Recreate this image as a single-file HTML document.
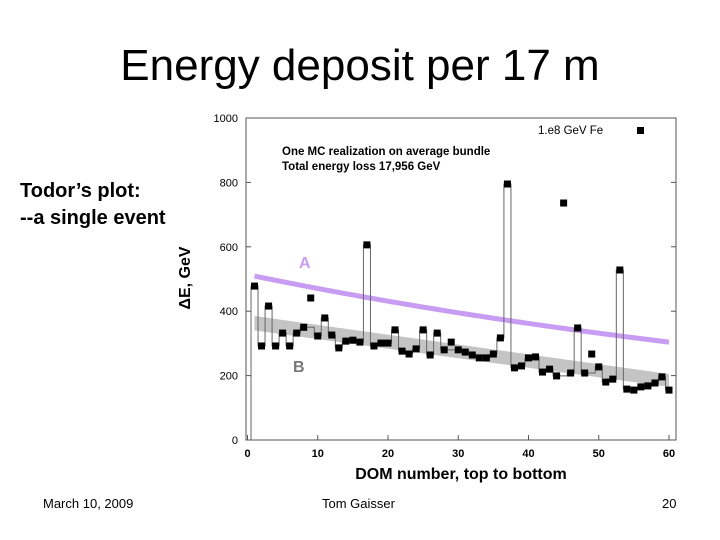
<!DOCTYPE html>
<html><head><meta charset="utf-8"><style>
body{margin:0;width:720px;height:540px;background:#fff;font-family:"Liberation Sans",sans-serif;position:relative;overflow:hidden}
.t{position:absolute;white-space:nowrap}
</style></head><body>
<div class="t" style="left:0;width:720px;text-align:center;top:41px;font-size:44px">Energy deposit per 17 m</div>
<div class="t" style="left:20px;top:178px;font-size:20px;font-weight:bold;line-height:27px">Todor’s plot:<br>--a single event</div>
<div class="t" style="left:43px;top:496px;font-size:13px">March 10, 2009</div>
<div class="t" style="left:322px;top:496px;font-size:13px">Tom Gaisser</div>
<div class="t" style="left:662px;top:496px;font-size:13px">20</div>
<svg id="c" width="720" height="540" style="position:absolute;left:0;top:0"></svg>
<script>
const domNumbers=[];for(let i=1;i<=60;i++)domNumbers.push(i);
const energy=[478,292,416,292,332,292,332,350,441,323,379,326,286,307,310,304,606,292,301,301,342,276,267,283,342,264,332,280,304,280,273,264,255,255,267,317,795,224,230,255,258,211,220,199,736,208,348,208,267,227,180,189,528,158,155,165,168,177,196,155];
const isolated=[9,29,45,49];
const bandTop=[385,205];
const bandBottom=[340,165];
const lineA=[509,304];
const yTicks=[0,200,400,600,800,1000];
const xTicks=[0,10,20,30,40,50,60];
const svg=document.getElementById('c');
const NS='http://www.w3.org/2000/svg';
const X=v=>247.5+v*(669-247.5)/60, Y=v=>440-v*0.322;
function mk(t,a,txt){const e=document.createElementNS(NS,t);for(const k in a)e.setAttribute(k,a[k]);if(txt!==undefined)e.textContent=txt;svg.appendChild(e);return e;}
let e;
e=mk('rect',{x:246,y:118,width:430,height:322,fill:'none',stroke:'#555','stroke-width':1});


e=mk('polygon',{points:`${X(1)},${Y(bandTop[0])} ${X(60)},${Y(bandTop[1])} ${X(60)},${Y(bandBottom[1])} ${X(1)},${Y(bandBottom[0])}`,fill:'#c4c4c4'});


let d='';for(let i=0;i<=59;i++){const x=1+i;const v=lineA[0]*Math.pow(lineA[1]/lineA[0],i/59);d+=(i?'L':'M')+X(x)+','+Y(v);}
e=mk('path',{d:d,fill:'none',stroke:'#c79cf2','stroke-width':5});


let s='M'+X(0.5)+','+Y(0);let prev=null;
energy.forEach((v,i)=>{const x=domNumbers[i];
 if(isolated.includes(x)){return;}
 if(prev!==null && prev<x-1){s+='L'+X(x-0.5)+','+Y(energy[prev-1]);}
 s+='L'+X(x-0.5)+','+Y(v)+'L'+X(x+0.5)+','+Y(v);prev=x;});
e=mk('path',{d:s,fill:'none',stroke:'#666','stroke-width':1});


energy.forEach((v,i)=>{
 const p=mk('rect',{x:X(domNumbers[i])-3.5,y:Y(v)-3.5,width:7,height:7,fill:'#000'});
 
 
});
yTicks.forEach(v=>{
 const l=mk('line',{x1:246,x2:251,y1:Y(v),y2:Y(v),stroke:'#555'});
 
 
 const r=mk('line',{x1:671,x2:676,y1:Y(v),y2:Y(v),stroke:'#555'});
 
 
 const t=mk('text',{x:238,y:Y(v)+4,'text-anchor':'end','font-size':11,'font-family':'Liberation Sans'},v);
 
 
});
xTicks.forEach(v=>{
 const l=mk('line',{x1:X(v),x2:X(v),y1:440,y2:435,stroke:'#555'});
 
 
 const t=mk('text',{x:X(v),y:457,'text-anchor':'middle','font-size':11,'font-weight':'bold','font-family':'Liberation Sans'},v);
 
 
});
e=mk('text',{x:461,y:479,'text-anchor':'middle','font-size':16,'font-weight':'bold','font-family':'Liberation Sans'},'DOM number, top to bottom');


e=mk('text',{x:0,y:0,transform:'translate(190,278) rotate(-90)','text-anchor':'middle','font-size':16,'font-weight':'bold','font-family':'Liberation Sans'},'ΔE, GeV');


e=mk('text',{x:282,y:155,'font-size':11.5,'font-weight':'bold','font-family':'Liberation Sans'},'One MC realization on average bundle');


e=mk('text',{x:282,y:170,'font-size':11.5,'font-weight':'bold','font-family':'Liberation Sans'},'Total energy loss 17,956 GeV');


e=mk('text',{x:538,y:134,'font-size':11.5,'font-family':'Liberation Sans'},'1.e8 GeV Fe');


e=mk('rect',{x:637,y:127,width:7,height:7,fill:'#000'});


e=mk('text',{x:299,y:268,'font-size':16,'font-weight':'bold',fill:'#c79cf2','font-family':'Liberation Sans'},'A');


e=mk('text',{x:293,y:372,'font-size':16,'font-weight':'bold',fill:'#777','font-family':'Liberation Sans'},'B');


</script>
</body></html>
